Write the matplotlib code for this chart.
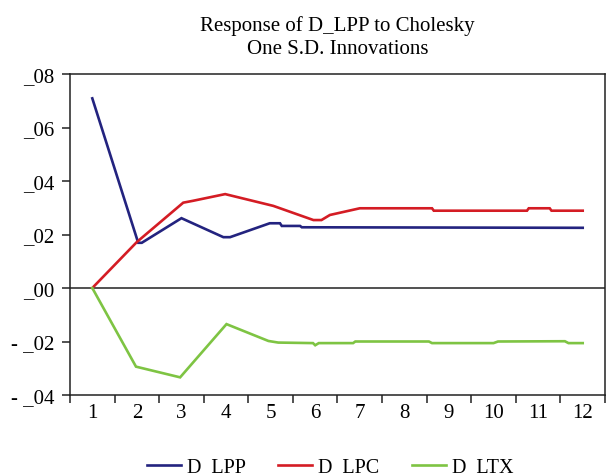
import matplotlib.pyplot as plt
from matplotlib.ticker import FixedLocator, NullFormatter


# ---------------------------------------------------------------------
# Data
# ---------------------------------------------------------------------

periods = list(range(1, 13))

y_ticks = [-0.04, -0.02, 0.00, 0.02, 0.04, 0.06, 0.08]
y_tick_labels = ["- _04", "- _02", "_00", "_02", "_04", "_06", "_08"]

lpp_x = [1.0, 2.03, 2.11, 3.0, 3.94, 4.09, 4.98, 5.21, 5.25, 5.66, 5.70, 12.0]
lpp_y = [0.0709, 0.0169, 0.0169, 0.0261, 0.0190, 0.0190, 0.0242, 0.0242,
         0.0232, 0.0232, 0.0227, 0.0225]

lpc_x = [1.0, 2.0, 3.04, 3.26, 3.98, 5.06, 5.96, 6.14, 6.33, 7.0, 8.62,
         8.66, 10.75, 10.79, 11.26, 11.30, 12.0]
lpc_y = [0.0, 0.0172, 0.0319, 0.0326, 0.0351, 0.0307, 0.0254, 0.0254,
         0.0273, 0.0298, 0.0298, 0.0289, 0.0289, 0.0298, 0.0298, 0.0289,
         0.0289]

ltx_x = [1.0, 1.98, 2.97, 4.01, 4.95, 5.17, 5.95, 6.0, 6.08, 6.85, 6.9,
         8.55, 8.62, 10.0, 10.1, 11.6, 11.68, 12.0]
ltx_y = [0.0, -0.0294, -0.0334, -0.0135, -0.0198, -0.0204, -0.0206,
         -0.0214, -0.0206, -0.0206, -0.0200, -0.0200, -0.0206, -0.0206,
         -0.0200, -0.0199, -0.0206, -0.0206]

series = [
    ("D  LPP", lpp_x, lpp_y, "#23237f"),
    ("D  LPC", lpc_x, lpc_y, "#d41c24"),
    ("D  LTX", ltx_x, ltx_y, "#7ec443"),
]


# ---------------------------------------------------------------------
# Plot
# ---------------------------------------------------------------------

def main():
    plt.rcParams["font.family"] = ["Liberation Serif", "DejaVu Serif"]

    fig = plt.figure(figsize=(6.06, 4.77), dpi=100)
    ax = fig.add_axes([70 / 606, 81 / 477, 535 / 606, 321 / 477])

    for label, xs, ys, color in series:
        ax.plot(xs, ys, color=color, linewidth=1.9, label=label,
                solid_joinstyle="miter")

    ax.axhline(0, color="#222222", linewidth=1.1, zorder=1)

    ax.set_xlim(0.5, 12.5)
    ax.set_ylim(-0.04, 0.08)

    # x: labels at periods, tick marks between them
    ax.xaxis.set_major_locator(FixedLocator(periods))
    ax.set_xticklabels([str(p) for p in periods])
    ax.xaxis.set_minor_locator(FixedLocator([p - 0.5 for p in periods] + [12.5]))
    ax.xaxis.set_minor_formatter(NullFormatter())
    ax.tick_params(axis="x", which="major", length=0, pad=6, labelsize=15)
    ax.tick_params(axis="x", which="minor", length=6, width=1.1,
                   direction="out", color="#222222")

    ax.set_yticks(y_ticks)
    ax.set_yticklabels(y_tick_labels)
    ax.tick_params(axis="y", length=6, width=1.1, direction="out", pad=5,
                   labelsize=15, color="#222222")

    for spine in ax.spines.values():
        spine.set_linewidth(1.1)
        spine.set_color("#222222")

    ax.set_title("Response of D_LPP to Cholesky\nOne S.D. Innovations",
                 fontsize=15, pad=15, linespacing=1.3)

    fig.legend(loc="lower center", bbox_to_anchor=(0.545, -0.04), ncol=3,
               frameon=False, fontsize=14.5, handlelength=1.7,
               handletextpad=0.3, columnspacing=1.6)

    fig.savefig("out.png", dpi=100)
    plt.close(fig)


if __name__ == "__main__":
    main()
